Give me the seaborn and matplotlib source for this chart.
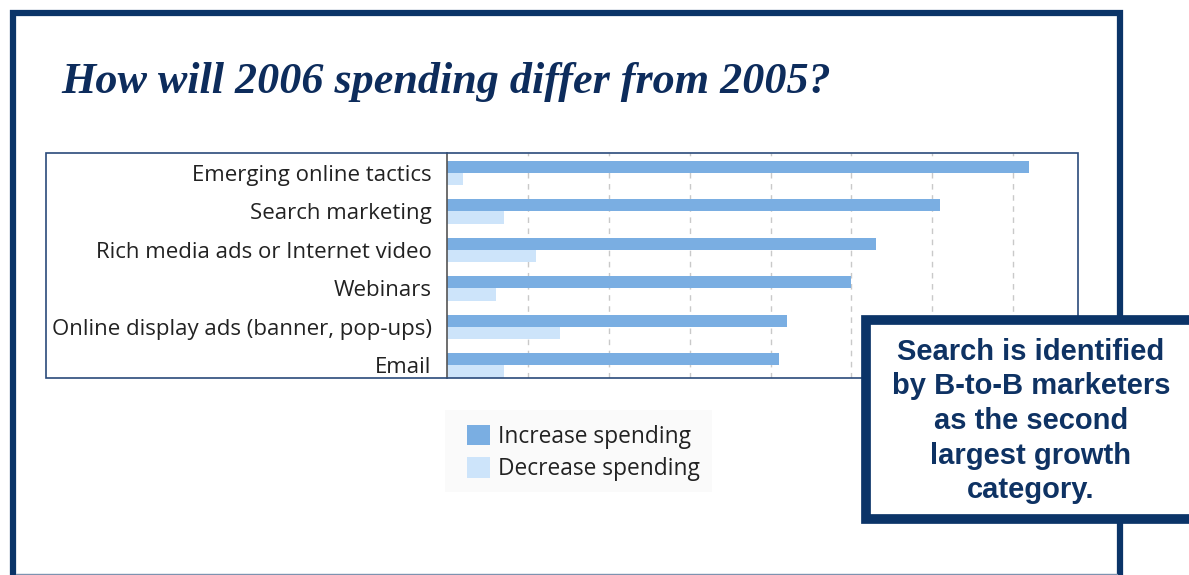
import seaborn as sns
import pandas as pd
import matplotlib.pyplot as plt
from matplotlib.patches import Rectangle
from matplotlib.lines import Line2D

# data (percent of marketers)
tactics = ["Emerging online tactics", "Search marketing",
           "Rich media ads or Internet video", "Webinars",
           "Online display ads (banner, pop-ups)", "Email"]
increase = [72, 61, 53, 50, 42, 41]
decrease = [2, 7, 11, 6, 14, 7]
groups = ["Increase spending", "Decrease spending"]

navy = "#0b3468"
W, H = 1189, 575

df = pd.DataFrame({
    "Tactic": tactics * 2,
    "Pct": increase + decrease,
    "Group": [groups[0]] * len(tactics) + [groups[1]] * len(tactics),
})

sns.set_style("white")
plt.rcParams["font.family"] = ["Open Sans", "DejaVu Sans"]

fig = plt.figure(figsize=(W / 100, H / 100), dpi=100)

def fx(px):
    return px / W

def fy(py):
    return 1 - py / H

# outer frame
fig.add_artist(Rectangle((fx(13), fy(600)), fx(1120) - fx(13), fy(13) - fy(600),
                         transform=fig.transFigure, fill=False, ec=navy, lw=4.5))
fig.add_artist(Line2D([fx(16), fx(1117)], [fy(574), fy(574)], transform=fig.transFigure,
                      color="#7d93b0", lw=1))

# title
fig.text(fx(61), fy(82), "How will 2006 spending differ from 2005?", ha="left", va="center",
         family="Liberation Serif", style="italic", weight="bold", fontsize=31.8, color="#0d2c5c")

# chart box
fig.add_artist(Rectangle((fx(46), fy(378)), fx(1078) - fx(46), fy(153) - fy(378),
                         transform=fig.transFigure, fill=False, ec="#2a4a7a", lw=1.2, zorder=5))

ax = fig.add_axes([fx(447), fy(378), fx(1078) - fx(447), fy(153) - fy(378)])
sns.barplot(data=df, y="Tactic", x="Pct", hue="Group", order=tactics, hue_order=groups,
            palette=["#7aaee2", "#cde4fa"], width=0.64, gap=0, saturation=1,
            linewidth=0, orient="h", ax=ax, zorder=3)
ax.set_xlim(0, 78)
ax.set_ylim(5.33, -0.52)
ax.set_xticks(range(10, 80, 10))
ax.xaxis.grid(True, color="#c9c9c9", lw=1, ls=(0, (4, 4)))
ax.set_xticklabels([])
ax.tick_params(axis="both", length=0)
ax.tick_params(axis="y", pad=11, labelsize=16, labelcolor="#222222")
ax.set_xlabel("")
ax.set_ylabel("")
for s in ["top", "right", "bottom"]:
    ax.spines[s].set_visible(False)
ax.spines["left"].set_color("#555555")
ax.spines["left"].set_linewidth(1.2)
ax.spines["left"].set_zorder(6)

# legend below the chart
fig.add_artist(Rectangle((fx(445), fy(492)), fx(712) - fx(445), fy(410) - fy(492),
                         transform=fig.transFigure, fc="#fafafa", ec="none", zorder=0))
ax.legend(loc="upper left", bbox_to_anchor=(fx(467), fy(425)), bbox_transform=fig.transFigure,
          frameon=False, borderpad=0, borderaxespad=0, fontsize=16.4, handlelength=1.0,
          handleheight=1.0, handletextpad=0.35, labelspacing=0.36, labelcolor="#222222")

# callout box
fig.add_artist(Rectangle((fx(866), fy(519)), fx(1250) - fx(866), fy(320) - fy(519),
                         transform=fig.transFigure, fc="white", ec=navy, lw=7, zorder=10))
fig.text(fx(1031), fy(421),
         "Search is identified\nby B-to-B marketers\nas the second\nlargest growth\ncategory.",
         ha="center", va="center", family="Liberation Sans", weight="bold", fontsize=21,
         color="#0e3263", linespacing=1.3, zorder=11)

fig.savefig("out.png", dpi=100)
